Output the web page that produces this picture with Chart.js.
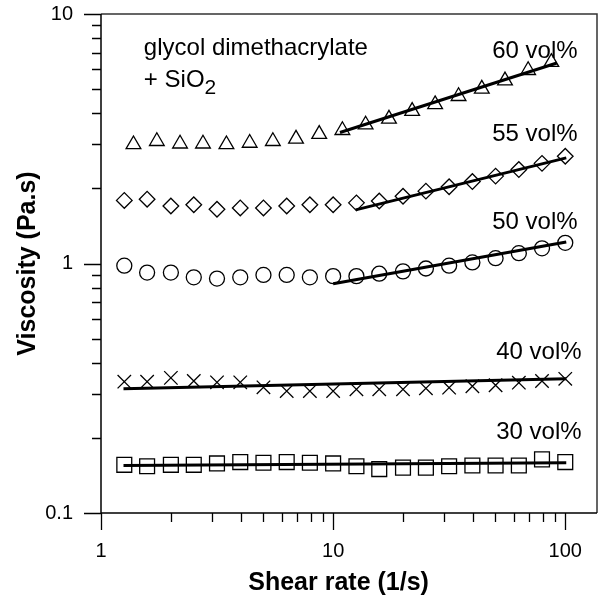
<!DOCTYPE html>
<html>
<head>
<meta charset="utf-8">
<script src="https://cdn.jsdelivr.net/npm/chart.js@4.4.0/dist/chart.umd.min.js"></script>
<style>
  html, body { margin: 0; padding: 0; background: #fff; }
</style>
</head>
<body>
<canvas id="myChart" width="599" height="596"></canvas>
<script>
// shear rate (1/s)
const shearRate = [1.26, 1.58, 2.0, 2.51, 3.16, 3.98, 5.01, 6.31, 7.94, 10, 12.6, 15.8, 20.0, 25.1, 31.6, 39.8, 50.1, 63.1, 79.4, 100];
const shearRate60 = [1.38, 1.74, 2.19, 2.75, 3.47, 4.37, 5.5, 6.92, 8.71, 10.96, 13.8, 17.4, 21.9, 27.5, 34.7, 43.7, 55.0, 69.2, 87.1];

// viscosity (Pa.s)
const visc60 = [3.0, 3.09, 3.02, 3.02, 3.0, 3.04, 3.09, 3.16, 3.3, 3.42, 3.6, 3.8, 4.08, 4.34, 4.68, 5.01, 5.41, 5.95, 6.41];
const visc55 = [1.79, 1.81, 1.70, 1.72, 1.65, 1.67, 1.67, 1.70, 1.72, 1.72, 1.75, 1.78, 1.86, 1.95, 2.03, 2.13, 2.24, 2.38, 2.52, 2.69];
const visc50 = [0.98, 0.92, 0.92, 0.88, 0.87, 0.88, 0.90, 0.90, 0.88, 0.89, 0.89, 0.91, 0.93, 0.955, 0.98, 1.01, 1.05, 1.10, 1.15, 1.21];
const visc40 = [0.336, 0.336, 0.348, 0.338, 0.334, 0.334, 0.319, 0.308, 0.308, 0.308, 0.313, 0.313, 0.313, 0.316, 0.318, 0.322, 0.325, 0.333, 0.338, 0.345];
const visc30 = [0.156, 0.154, 0.156, 0.156, 0.158, 0.160, 0.159, 0.160, 0.159, 0.158, 0.154, 0.150, 0.152, 0.152, 0.154, 0.155, 0.155, 0.155, 0.164, 0.160];

// power law fit lines (end points)
const fit60X = [10.7, 92], fit60Y = [3.35, 6.36];
const fit55X = [12.5, 101], fit55Y = [1.64, 2.65];
const fit50X = [10, 101], fit50Y = [0.83, 1.22];
const fit40X = [1.25, 101], fit40Y = [0.315, 0.345];
const fit30X = [1.25, 101], fit30Y = [0.155, 0.159];

// tick labels
const xTickVals = [1, 10, 100], xTickLabels = ['1', '10', '100'];
const yTickVals = [0.1, 1, 10], yTickLabels = ['0.1', '1', '10'];

// series labels
const seriesNames = ['60 vol%', '55 vol%', '50 vol%', '40 vol%', '30 vol%'];
const nameX = [74, 74, 74, 77, 77];
const nameY = [7.2, 3.32, 1.48, 0.445, 0.213];

const FONT = "'Liberation Sans', Arial, sans-serif";

function pts(xs, ys) {
  return xs.map((x, i) => ({ x: x, y: ys[i] }));
}

function findLabel(v, vals, labels) {
  for (let i = 0; i < vals.length; i++) {
    if (Math.abs(v - vals[i]) / vals[i] < 1e-6) return labels[i];
  }
  return '';
}

function markers(data, style, r) {
  return {
    data: data,
    showLine: false,
    pointStyle: style,
    pointRadius: r,
    pointHoverRadius: r,
    pointBorderColor: '#000',
    pointBackgroundColor: 'rgba(0,0,0,0)',
    pointBorderWidth: 1.3
  };
}

function fitLine(data) {
  return {
    data: data,
    showLine: true,
    borderColor: '#000',
    borderWidth: 3,
    pointRadius: 0,
    fill: false
  };
}

// axes frame, tick marks and text
const decor = {
  id: 'decor',
  afterDraw(chart) {
    const ctx = chart.ctx;
    const a = chart.chartArea;
    const xs = chart.scales.x, ys = chart.scales.y;
    ctx.save();

    // top / right border
    ctx.strokeStyle = '#333';
    ctx.lineWidth = 1.5;
    ctx.beginPath();
    ctx.moveTo(a.left, a.top);
    ctx.lineTo(a.right, a.top);
    ctx.lineTo(a.right, a.bottom);
    ctx.stroke();

    // axis lines
    ctx.strokeStyle = '#000';
    ctx.beginPath();
    ctx.moveTo(a.left, a.top);
    ctx.lineTo(a.left, a.bottom);
    ctx.lineTo(a.right, a.bottom);
    ctx.stroke();

    ctx.lineWidth = 1.3;
    ctx.beginPath();
    xs.ticks.forEach(t => {
      const lg = Math.log10(t.value);
      const m = t.value / Math.pow(10, Math.floor(lg + 1e-9));
      if (Math.abs(m - Math.round(m)) > 1e-6 || t.value > 100.5) return;
      const major = Math.abs(lg - Math.round(lg)) < 1e-6;
      const px = Math.round(xs.getPixelForValue(t.value)) + 0.5;
      ctx.moveTo(px, a.bottom);
      ctx.lineTo(px, a.bottom + (major ? 17 : 9));
    });
    ys.ticks.forEach(t => {
      const lg = Math.log10(t.value);
      const m = t.value / Math.pow(10, Math.floor(lg + 1e-9));
      if (Math.abs(m - Math.round(m)) > 1e-6) return;
      const major = Math.abs(lg - Math.round(lg)) < 1e-6;
      const py = Math.round(ys.getPixelForValue(t.value)) + 0.5;
      ctx.moveTo(a.left, py);
      ctx.lineTo(a.left - (major ? 17 : 9), py);
    });
    ctx.stroke();

    // text in the plot
    ctx.fillStyle = '#000';
    ctx.textBaseline = 'alphabetic';
    ctx.font = '24px ' + FONT;
    ctx.textAlign = 'center';
    seriesNames.forEach((s, i) => {
      ctx.fillText(s, xs.getPixelForValue(nameX[i]), ys.getPixelForValue(nameY[i]) + 8);
    });

    ctx.textAlign = 'left';
    const tx = xs.getPixelForValue(1.53);
    ctx.fillText('glycol dimethacrylate', tx, ys.getPixelForValue(6.88));
    const y2 = ys.getPixelForValue(5.12);
    ctx.fillText('+ SiO', tx, y2);
    const w = ctx.measureText('+ SiO').width;
    ctx.font = '21px ' + FONT;
    ctx.fillText('2', tx + w, y2 + 7);

    ctx.restore();
  }
};

const ctx = document.getElementById('myChart').getContext('2d');
const myChart = new Chart(ctx, {
  type: 'scatter',
  data: {
    datasets: [
      markers(pts(shearRate60, visc60), 'triangle', 8.5),
      markers(pts(shearRate, visc55), 'rectRot', 7.8),
      markers(pts(shearRate, visc50), 'circle', 7.5),
      markers(pts(shearRate, visc40), 'crossRot', 9.5),
      markers(pts(shearRate, visc30), 'rect', 10.5),
      fitLine(pts(fit60X, fit60Y)),
      fitLine(pts(fit55X, fit55Y)),
      fitLine(pts(fit50X, fit50Y)),
      fitLine(pts(fit40X, fit40Y)),
      fitLine(pts(fit30X, fit30Y))
    ]
  },
  options: {
    responsive: false,
    animation: false,
    events: [],
    layout: {
      autoPadding: false,
      padding: { top: 14, right: 2, left: 0, bottom: 0 }
    },
    plugins: {
      legend: { display: false },
      tooltip: { enabled: false }
    },
    scales: {
      x: {
        type: 'logarithmic',
        min: 1,
        max: 137,
        grid: { display: false, drawTicks: false },
        border: { display: false },
        ticks: {
          autoSkip: false,
          maxRotation: 0,
          padding: 26,
          color: '#000',
          font: { family: FONT, size: 20 },
          callback: (v) => findLabel(v, xTickVals, xTickLabels)
        },
        title: {
          display: true,
          // trailing spaces pull the centred title a little to the left
          text: 'Shear rate (1/s)\u00a0\u00a0\u00a0',
          color: '#000',
          font: { family: FONT, size: 25, weight: 'bold', lineHeight: 1 },
          padding: { top: 0, bottom: 0 }
        },
        afterFit(s) {
          s.height = 83;
          s.paddingLeft = 0;
          s.paddingRight = 0;
        }
      },
      y: {
        type: 'logarithmic',
        min: 0.1,
        max: 10,
        grid: { display: false, drawTicks: false },
        border: { display: false },
        ticks: {
          autoSkip: false,
          padding: 28,
          color: '#000',
          font: { family: FONT, size: 20 },
          callback: (v) => findLabel(v, yTickVals, yTickLabels)
        },
        title: {
          display: true,
          text: 'Viscosity (Pa.s)',
          color: '#000',
          font: { family: FONT, size: 25, weight: 'bold' },
          padding: { top: 13, bottom: 0 }
        },
        afterFit(s) {
          s.width = 101;
          s.paddingTop = 0;
          s.paddingBottom = 0;
        }
      }
    }
  },
  plugins: [decor]
});
</script>
</body>
</html>
